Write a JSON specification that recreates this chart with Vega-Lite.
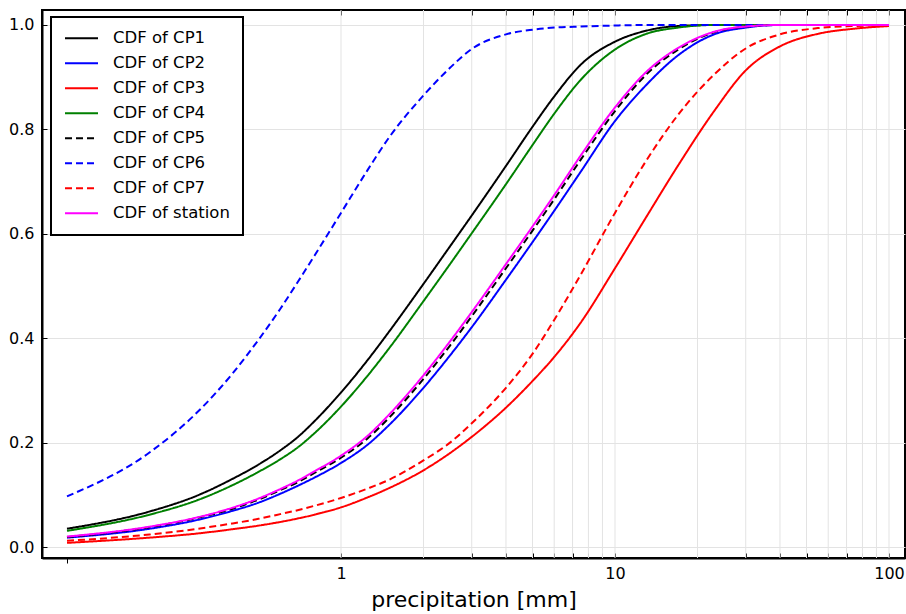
{
  "$schema": "https://vega.github.io/schema/vega-lite/v6.json",
  "width": 863,
  "height": 548,
  "autosize": {"type": "none"},
  "padding": {"left": 42, "top": 10, "right": 1, "bottom": 56},
  "background": "white",
  "config": {
    "font": "DejaVu Sans",
    "view": {"stroke": "black", "strokeWidth": 2},
    "legend": {"strokeWidth": 2}
  },
  "datasets": {
    "grid": [
      {"g": 1}, {"g": 2}, {"g": 3}, {"g": 4}, {"g": 5}, {"g": 6}, {"g": 7}, {"g": 8}, {"g": 9},
      {"g": 10}, {"g": 20}, {"g": 30}, {"g": 40}, {"g": 50}, {"g": 60}, {"g": 70}, {"g": 80}, {"g": 90}, {"g": 100}
    ],
    "cdf": [
      {"s": "CDF of CP1", "x": 0.1, "y": 0.035}, {"s": "CDF of CP1", "x": 0.2, "y": 0.068}, {"s": "CDF of CP1", "x": 0.3, "y": 0.099}, {"s": "CDF of CP1", "x": 0.4, "y": 0.130}, {"s": "CDF of CP1", "x": 0.5, "y": 0.158}, {"s": "CDF of CP1", "x": 0.6, "y": 0.185}, {"s": "CDF of CP1", "x": 0.7, "y": 0.212}, {"s": "CDF of CP1", "x": 0.8, "y": 0.241}, {"s": "CDF of CP1", "x": 1, "y": 0.296}, {"s": "CDF of CP1", "x": 1.25, "y": 0.358}, {"s": "CDF of CP1", "x": 1.5, "y": 0.413}, {"s": "CDF of CP1", "x": 2, "y": 0.504}, {"s": "CDF of CP1", "x": 2.5, "y": 0.576}, {"s": "CDF of CP1", "x": 3, "y": 0.635}, {"s": "CDF of CP1", "x": 4, "y": 0.730}, {"s": "CDF of CP1", "x": 5, "y": 0.805}, {"s": "CDF of CP1", "x": 6, "y": 0.863}, {"s": "CDF of CP1", "x": 7.5, "y": 0.924}, {"s": "CDF of CP1", "x": 10, "y": 0.968}, {"s": "CDF of CP1", "x": 13, "y": 0.989}, {"s": "CDF of CP1", "x": 17, "y": 0.998}, {"s": "CDF of CP1", "x": 23, "y": 1}, {"s": "CDF of CP1", "x": 30, "y": 1}, {"s": "CDF of CP1", "x": 40, "y": 1}, {"s": "CDF of CP1", "x": 55, "y": 1}, {"s": "CDF of CP1", "x": 75, "y": 1}, {"s": "CDF of CP1", "x": 100, "y": 1},

      {"s": "CDF of CP2", "x": 0.1, "y": 0.018}, {"s": "CDF of CP2", "x": 0.2, "y": 0.035}, {"s": "CDF of CP2", "x": 0.3, "y": 0.052}, {"s": "CDF of CP2", "x": 0.4, "y": 0.069}, {"s": "CDF of CP2", "x": 0.5, "y": 0.085}, {"s": "CDF of CP2", "x": 0.6, "y": 0.102}, {"s": "CDF of CP2", "x": 0.7, "y": 0.118}, {"s": "CDF of CP2", "x": 0.8, "y": 0.133}, {"s": "CDF of CP2", "x": 1, "y": 0.161}, {"s": "CDF of CP2", "x": 1.25, "y": 0.196}, {"s": "CDF of CP2", "x": 1.5, "y": 0.234}, {"s": "CDF of CP2", "x": 2, "y": 0.305}, {"s": "CDF of CP2", "x": 2.5, "y": 0.367}, {"s": "CDF of CP2", "x": 3, "y": 0.421}, {"s": "CDF of CP2", "x": 4, "y": 0.512}, {"s": "CDF of CP2", "x": 5, "y": 0.584}, {"s": "CDF of CP2", "x": 6, "y": 0.644}, {"s": "CDF of CP2", "x": 7.5, "y": 0.719}, {"s": "CDF of CP2", "x": 10, "y": 0.816}, {"s": "CDF of CP2", "x": 13, "y": 0.885}, {"s": "CDF of CP2", "x": 17, "y": 0.942}, {"s": "CDF of CP2", "x": 23, "y": 0.982}, {"s": "CDF of CP2", "x": 30, "y": 0.995}, {"s": "CDF of CP2", "x": 40, "y": 1}, {"s": "CDF of CP2", "x": 55, "y": 1}, {"s": "CDF of CP2", "x": 75, "y": 1}, {"s": "CDF of CP2", "x": 100, "y": 1},

      {"s": "CDF of CP3", "x": 0.1, "y": 0.008}, {"s": "CDF of CP3", "x": 0.2, "y": 0.018}, {"s": "CDF of CP3", "x": 0.3, "y": 0.026}, {"s": "CDF of CP3", "x": 0.4, "y": 0.034}, {"s": "CDF of CP3", "x": 0.5, "y": 0.041}, {"s": "CDF of CP3", "x": 0.6, "y": 0.048}, {"s": "CDF of CP3", "x": 0.7, "y": 0.055}, {"s": "CDF of CP3", "x": 0.8, "y": 0.062}, {"s": "CDF of CP3", "x": 1, "y": 0.076}, {"s": "CDF of CP3", "x": 1.25, "y": 0.095}, {"s": "CDF of CP3", "x": 1.5, "y": 0.113}, {"s": "CDF of CP3", "x": 2, "y": 0.147}, {"s": "CDF of CP3", "x": 2.5, "y": 0.180}, {"s": "CDF of CP3", "x": 3, "y": 0.211}, {"s": "CDF of CP3", "x": 4, "y": 0.267}, {"s": "CDF of CP3", "x": 5, "y": 0.318}, {"s": "CDF of CP3", "x": 6, "y": 0.364}, {"s": "CDF of CP3", "x": 7.5, "y": 0.430}, {"s": "CDF of CP3", "x": 10, "y": 0.534}, {"s": "CDF of CP3", "x": 13, "y": 0.632}, {"s": "CDF of CP3", "x": 17, "y": 0.731}, {"s": "CDF of CP3", "x": 23, "y": 0.835}, {"s": "CDF of CP3", "x": 30, "y": 0.913}, {"s": "CDF of CP3", "x": 40, "y": 0.959}, {"s": "CDF of CP3", "x": 55, "y": 0.983}, {"s": "CDF of CP3", "x": 75, "y": 0.993}, {"s": "CDF of CP3", "x": 100, "y": 0.998},

      {"s": "CDF of CP4", "x": 0.1, "y": 0.031}, {"s": "CDF of CP4", "x": 0.2, "y": 0.062}, {"s": "CDF of CP4", "x": 0.3, "y": 0.090}, {"s": "CDF of CP4", "x": 0.4, "y": 0.118}, {"s": "CDF of CP4", "x": 0.5, "y": 0.144}, {"s": "CDF of CP4", "x": 0.6, "y": 0.168}, {"s": "CDF of CP4", "x": 0.7, "y": 0.192}, {"s": "CDF of CP4", "x": 0.8, "y": 0.218}, {"s": "CDF of CP4", "x": 1, "y": 0.269}, {"s": "CDF of CP4", "x": 1.25, "y": 0.328}, {"s": "CDF of CP4", "x": 1.5, "y": 0.381}, {"s": "CDF of CP4", "x": 2, "y": 0.471}, {"s": "CDF of CP4", "x": 2.5, "y": 0.542}, {"s": "CDF of CP4", "x": 3, "y": 0.601}, {"s": "CDF of CP4", "x": 4, "y": 0.695}, {"s": "CDF of CP4", "x": 5, "y": 0.770}, {"s": "CDF of CP4", "x": 6, "y": 0.830}, {"s": "CDF of CP4", "x": 7.5, "y": 0.895}, {"s": "CDF of CP4", "x": 10, "y": 0.953}, {"s": "CDF of CP4", "x": 13, "y": 0.983}, {"s": "CDF of CP4", "x": 17, "y": 0.995}, {"s": "CDF of CP4", "x": 23, "y": 1}, {"s": "CDF of CP4", "x": 30, "y": 1}, {"s": "CDF of CP4", "x": 40, "y": 1}, {"s": "CDF of CP4", "x": 55, "y": 1}, {"s": "CDF of CP4", "x": 75, "y": 1}, {"s": "CDF of CP4", "x": 100, "y": 1},

      {"s": "CDF of CP5", "x": 0.1, "y": 0.019}, {"s": "CDF of CP5", "x": 0.2, "y": 0.038}, {"s": "CDF of CP5", "x": 0.3, "y": 0.056}, {"s": "CDF of CP5", "x": 0.4, "y": 0.073}, {"s": "CDF of CP5", "x": 0.5, "y": 0.091}, {"s": "CDF of CP5", "x": 0.6, "y": 0.109}, {"s": "CDF of CP5", "x": 0.7, "y": 0.125}, {"s": "CDF of CP5", "x": 0.8, "y": 0.142}, {"s": "CDF of CP5", "x": 1, "y": 0.171}, {"s": "CDF of CP5", "x": 1.25, "y": 0.208}, {"s": "CDF of CP5", "x": 1.5, "y": 0.248}, {"s": "CDF of CP5", "x": 2, "y": 0.322}, {"s": "CDF of CP5", "x": 2.5, "y": 0.386}, {"s": "CDF of CP5", "x": 3, "y": 0.442}, {"s": "CDF of CP5", "x": 4, "y": 0.534}, {"s": "CDF of CP5", "x": 5, "y": 0.606}, {"s": "CDF of CP5", "x": 6, "y": 0.666}, {"s": "CDF of CP5", "x": 7.5, "y": 0.742}, {"s": "CDF of CP5", "x": 10, "y": 0.835}, {"s": "CDF of CP5", "x": 13, "y": 0.905}, {"s": "CDF of CP5", "x": 17, "y": 0.953}, {"s": "CDF of CP5", "x": 23, "y": 0.986}, {"s": "CDF of CP5", "x": 30, "y": 0.997}, {"s": "CDF of CP5", "x": 40, "y": 1}, {"s": "CDF of CP5", "x": 55, "y": 1}, {"s": "CDF of CP5", "x": 75, "y": 1}, {"s": "CDF of CP5", "x": 100, "y": 1},

      {"s": "CDF of CP6", "x": 0.1, "y": 0.097}, {"s": "CDF of CP6", "x": 0.2, "y": 0.181}, {"s": "CDF of CP6", "x": 0.3, "y": 0.259}, {"s": "CDF of CP6", "x": 0.4, "y": 0.331}, {"s": "CDF of CP6", "x": 0.5, "y": 0.397}, {"s": "CDF of CP6", "x": 0.6, "y": 0.456}, {"s": "CDF of CP6", "x": 0.7, "y": 0.510}, {"s": "CDF of CP6", "x": 0.8, "y": 0.558}, {"s": "CDF of CP6", "x": 1, "y": 0.640}, {"s": "CDF of CP6", "x": 1.25, "y": 0.722}, {"s": "CDF of CP6", "x": 1.5, "y": 0.785}, {"s": "CDF of CP6", "x": 2, "y": 0.865}, {"s": "CDF of CP6", "x": 2.5, "y": 0.918}, {"s": "CDF of CP6", "x": 3, "y": 0.954}, {"s": "CDF of CP6", "x": 4, "y": 0.982}, {"s": "CDF of CP6", "x": 5, "y": 0.991}, {"s": "CDF of CP6", "x": 6, "y": 0.995}, {"s": "CDF of CP6", "x": 7.5, "y": 0.997}, {"s": "CDF of CP6", "x": 10, "y": 0.999}, {"s": "CDF of CP6", "x": 13, "y": 1}, {"s": "CDF of CP6", "x": 17, "y": 1}, {"s": "CDF of CP6", "x": 23, "y": 1}, {"s": "CDF of CP6", "x": 30, "y": 1}, {"s": "CDF of CP6", "x": 40, "y": 1}, {"s": "CDF of CP6", "x": 55, "y": 1}, {"s": "CDF of CP6", "x": 75, "y": 1}, {"s": "CDF of CP6", "x": 100, "y": 1},

      {"s": "CDF of CP7", "x": 0.1, "y": 0.012}, {"s": "CDF of CP7", "x": 0.2, "y": 0.024}, {"s": "CDF of CP7", "x": 0.3, "y": 0.035}, {"s": "CDF of CP7", "x": 0.4, "y": 0.045}, {"s": "CDF of CP7", "x": 0.5, "y": 0.054}, {"s": "CDF of CP7", "x": 0.6, "y": 0.063}, {"s": "CDF of CP7", "x": 0.7, "y": 0.071}, {"s": "CDF of CP7", "x": 0.8, "y": 0.079}, {"s": "CDF of CP7", "x": 1, "y": 0.094}, {"s": "CDF of CP7", "x": 1.25, "y": 0.112}, {"s": "CDF of CP7", "x": 1.5, "y": 0.129}, {"s": "CDF of CP7", "x": 2, "y": 0.166}, {"s": "CDF of CP7", "x": 2.5, "y": 0.200}, {"s": "CDF of CP7", "x": 3, "y": 0.237}, {"s": "CDF of CP7", "x": 4, "y": 0.305}, {"s": "CDF of CP7", "x": 5, "y": 0.370}, {"s": "CDF of CP7", "x": 6, "y": 0.435}, {"s": "CDF of CP7", "x": 7.5, "y": 0.522}, {"s": "CDF of CP7", "x": 10, "y": 0.640}, {"s": "CDF of CP7", "x": 13, "y": 0.740}, {"s": "CDF of CP7", "x": 17, "y": 0.828}, {"s": "CDF of CP7", "x": 23, "y": 0.905}, {"s": "CDF of CP7", "x": 30, "y": 0.955}, {"s": "CDF of CP7", "x": 40, "y": 0.982}, {"s": "CDF of CP7", "x": 55, "y": 0.994}, {"s": "CDF of CP7", "x": 75, "y": 0.998}, {"s": "CDF of CP7", "x": 100, "y": 1},

      {"s": "CDF of station", "x": 0.1, "y": 0.020}, {"s": "CDF of station", "x": 0.2, "y": 0.039}, {"s": "CDF of station", "x": 0.3, "y": 0.057}, {"s": "CDF of station", "x": 0.4, "y": 0.075}, {"s": "CDF of station", "x": 0.5, "y": 0.093}, {"s": "CDF of station", "x": 0.6, "y": 0.111}, {"s": "CDF of station", "x": 0.7, "y": 0.128}, {"s": "CDF of station", "x": 0.8, "y": 0.145}, {"s": "CDF of station", "x": 1, "y": 0.175}, {"s": "CDF of station", "x": 1.25, "y": 0.213}, {"s": "CDF of station", "x": 1.5, "y": 0.254}, {"s": "CDF of station", "x": 2, "y": 0.329}, {"s": "CDF of station", "x": 2.5, "y": 0.394}, {"s": "CDF of station", "x": 3, "y": 0.450}, {"s": "CDF of station", "x": 4, "y": 0.542}, {"s": "CDF of station", "x": 5, "y": 0.614}, {"s": "CDF of station", "x": 6, "y": 0.674}, {"s": "CDF of station", "x": 7.5, "y": 0.750}, {"s": "CDF of station", "x": 10, "y": 0.842}, {"s": "CDF of station", "x": 13, "y": 0.910}, {"s": "CDF of station", "x": 17, "y": 0.956}, {"s": "CDF of station", "x": 23, "y": 0.987}, {"s": "CDF of station", "x": 30, "y": 0.997}, {"s": "CDF of station", "x": 40, "y": 1}, {"s": "CDF of station", "x": 55, "y": 1}, {"s": "CDF of station", "x": 75, "y": 1}, {"s": "CDF of station", "x": 100, "y": 1}
    ]
  },
  "layer": [
    {
      "data": {"name": "grid"},
      "mark": {"type": "rule", "color": "#e3e3e3", "strokeWidth": 1},
      "encoding": {
        "x": {
          "field": "g", "type": "quantitative",
          "scale": {"type": "log", "domain": [0.08106, 114.4], "nice": false},
          "axis": {
            "orient": "top", "title": null, "labels": false, "grid": false, "domain": false,
            "values": [1, 2, 3, 4, 5, 6, 7, 8, 9, 10, 20, 30, 40, 50, 60, 70, 80, 90, 100],
            "tickSize": -5, "tickColor": "black", "tickWidth": 1
          }
        }
      }
    },
    {
      "data": {"name": "cdf"},
      "mark": {"type": "line", "strokeWidth": 2, "clip": true, "interpolate": "monotone"},
      "encoding": {
        "x": {
          "field": "x", "type": "quantitative",
          "scale": {"type": "log", "domain": [0.08106, 114.4], "nice": false},
          "axis": {
            "orient": "bottom",
            "values": [0.1, 1, 2, 3, 4, 5, 6, 7, 8, 9, 10, 20, 30, 40, 50, 60, 70, 80, 90, 100],
            "labelExpr": "(datum.value == 1 || datum.value == 10 || datum.value == 100) ? (datum.value + '') : ''",
            "labelOverlap": false, "labelFlush": false, "labelBound": false,
            "grid": false,
            "tickSize": {"condition": {"test": "datum.value == 0.1", "value": 5}, "value": -5},
            "tickColor": "black", "tickWidth": 1,
            "domainColor": "black", "domainWidth": 2,
            "labelFontSize": 16, "labelColor": "black", "labelPadding": 12, "labelFont": "DejaVu Sans",
            "title": "precipitation [mm]", "titleFontSize": 22, "titleFontWeight": "normal",
            "titleColor": "black", "titlePadding": -2, "titleFont": "DejaVu Sans"
          }
        },
        "y": {
          "field": "y", "type": "quantitative",
          "scale": {"domain": [-0.021, 1.0287], "nice": false, "zero": false},
          "axis": {
            "values": [0, 0.2, 0.4, 0.6, 0.8, 1.0], "format": ".1f",
            "grid": true, "gridColor": "#e3e3e3", "gridWidth": 1,
            "tickSize": -5, "tickColor": "black", "tickWidth": 1,
            "domainColor": "black", "domainWidth": 2,
            "labelFontSize": 16, "labelColor": "black", "labelPadding": 13, "labelFont": "DejaVu Sans",
            "title": null
          }
        },
        "color": {
          "field": "s", "type": "nominal",
          "scale": {
            "domain": ["CDF of CP1", "CDF of CP2", "CDF of CP3", "CDF of CP4", "CDF of CP5", "CDF of CP6", "CDF of CP7", "CDF of station"],
            "range": ["#000000", "#0000ff", "#ff0000", "#008000", "#000000", "#0000ff", "#ff0000", "#ff00ff"]
          },
          "legend": {
            "title": null, "orient": "none", "legendX": 9, "legendY": 7,
            "symbolType": "stroke", "symbolSize": 1089, "symbolStrokeWidth": 2, "clipHeight": 16.5,
            "labelFontSize": 16.5, "labelFont": "DejaVu Sans", "labelColor": "black", "labelOffset": 14,
            "rowPadding": 8, "padding": 13, "strokeColor": "black", "fillColor": "white", "cornerRadius": 0
          }
        },
        "strokeDash": {
          "field": "s", "type": "nominal",
          "scale": {
            "domain": ["CDF of CP1", "CDF of CP2", "CDF of CP3", "CDF of CP4", "CDF of CP5", "CDF of CP6", "CDF of CP7", "CDF of station"],
            "range": [[1, 0], [1, 0], [1, 0], [1, 0], [7, 4], [7, 4], [7, 4], [1, 0]]
          },
          "legend": {
            "title": null, "orient": "none", "legendX": 9, "legendY": 7,
            "symbolType": "stroke", "symbolSize": 1089, "symbolStrokeWidth": 2, "clipHeight": 16.5,
            "labelFontSize": 16.5, "labelFont": "DejaVu Sans", "labelColor": "black", "labelOffset": 14,
            "rowPadding": 8, "padding": 13, "strokeColor": "black", "fillColor": "white", "cornerRadius": 0
          }
        }
      }
    }
  ],
  "resolve": {"axis": {"x": "independent"}}
}
